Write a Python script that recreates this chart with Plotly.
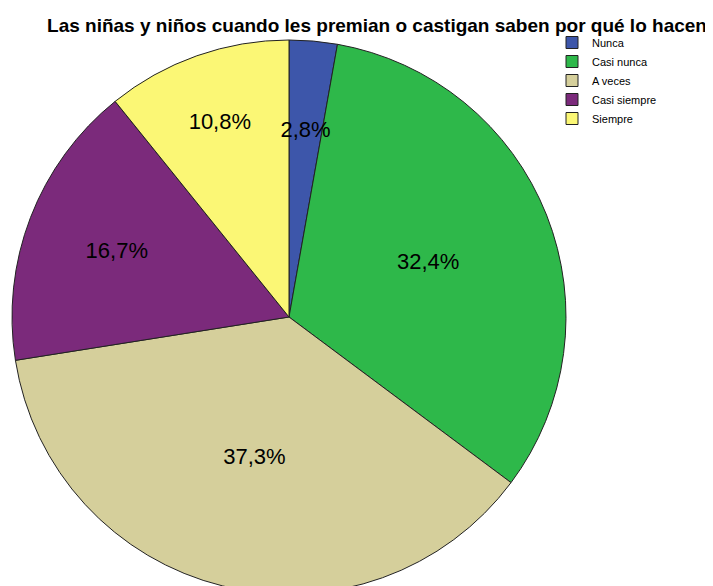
import plotly.graph_objects as go

categories = ["Nunca", "Casi nunca", "A veces", "Casi siempre", "Siempre"]
percentages = [2.8, 32.4, 37.3, 16.7, 10.8]
colors = ["#3D56AA", "#2EB84A", "#D5CF9B", "#7B2A7B", "#FBF775"]
title_text = "Las niñas y niños cuando les premian o castigan saben por qué lo hacen"

# page body adds an 8px offset; figure coordinates below are relative to the figure
W, H = 713, 586
cx, cy, r_px = 281, 309, 277
r_small = 205  # inner label-only pie for the narrow slice


def domain(r):
    return dict(x=[(cx - r) / W, (cx + r) / W],
                y=[(H - (cy + r)) / H, (H - (cy - r)) / H])


label_font = dict(family="Liberation Sans, Arial", size=22, color="black")
main_tpl = ["" if v < 5 else "%{value:.1f}%" for v in percentages]
small_tpl = ["%{value:.1f}%" if v < 5 else "" for v in percentages]

fig = go.Figure()
fig.add_trace(go.Pie(
    labels=categories,
    values=percentages,
    sort=False,
    direction="clockwise",
    rotation=0,
    marker=dict(colors=colors, line=dict(color="#222222", width=1)),
    texttemplate=main_tpl,
    textposition="inside",
    insidetextorientation="horizontal",
    textfont=label_font,
    hoverinfo="label+percent",
    domain=domain(r_px),
))
fig.add_trace(go.Pie(
    labels=categories,
    values=percentages,
    sort=False,
    direction="clockwise",
    rotation=0,
    marker=dict(colors=["rgba(0,0,0,0)"] * len(categories), line=dict(width=0)),
    texttemplate=small_tpl,
    textposition="inside",
    insidetextorientation="horizontal",
    textfont=label_font,
    hoverinfo="skip",
    showlegend=False,
    domain=domain(r_small),
))

fig.update_layout(
    width=W, height=H,
    margin=dict(l=0, r=0, t=0, b=0),
    paper_bgcolor="white",
    separators=",.",
    uniformtext=dict(minsize=22, mode="show"),
    title=dict(text="<b>" + title_text + "</b>", x=369 / W, xanchor="center",
               y=1 - 17 / H, yanchor="middle",
               font=dict(family="Liberation Sans, Arial", size=19, color="black")),
    legend=dict(x=544 / W, y=1 - 20 / H, xanchor="left", yanchor="top",
                font=dict(family="Liberation Sans, Arial", size=11, color="black"),
                itemwidth=30, tracegroupgap=0, bgcolor="rgba(0,0,0,0)"),
    showlegend=True,
)

fig.write_html("out.html")
